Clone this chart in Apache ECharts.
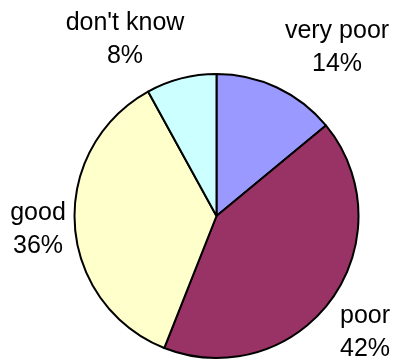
<!DOCTYPE html>
<html>
<head>
<meta charset="utf-8">
<script src="https://cdn.jsdelivr.net/npm/echarts@6/dist/echarts.min.js"></script>
<style>
  html, body { margin: 0; padding: 0; background: #fff; }
  #chart { width: 395px; height: 360px; }
</style>
</head>
<body>
<div id="chart"></div>
<script>
// answers, in clockwise order from 12 o'clock
const categories = ['very poor', 'poor', 'good', "don't know"];
const shares = [14, 42, 36, 8];
const sliceColors = ['#9999FF', '#993366', '#FFFFCC', '#CCFFFF'];

// where each label block sits (centre of the two lines)
const labelSpots = [[337, 48], [365, 333], [38, 230], [125, 40]];

const chart = echarts.init(document.getElementById('chart'));
chart.setOption({
  animation: false,
  series: [{
    type: 'pie',
    center: [216.5, 216],
    radius: 142,
    startAngle: 90,
    clockwise: true,
    avoidLabelOverlap: false,
    data: categories.map((name, i) => ({
      name: name,
      value: shares[i],
      itemStyle: { color: sliceColors[i] }
    })),
    itemStyle: { borderColor: '#000', borderWidth: 2 },
    label: {
      show: true,
      position: 'outside',
      formatter: '{b}\n{c}%',
      color: '#000',
      fontFamily: 'Liberation Sans, Arial, sans-serif',
      fontSize: 25,
      lineHeight: 33,
      align: 'center',
      overflow: 'none'
    },
    labelLine: { show: false },
    labelLayout: function (params) {
      const p = labelSpots[params.dataIndex];
      return { x: p[0], y: p[1], align: 'center', verticalAlign: 'middle', hideOverlap: false };
    },
    emphasis: { disabled: true }
  }]
});
</script>
</body>
</html>
